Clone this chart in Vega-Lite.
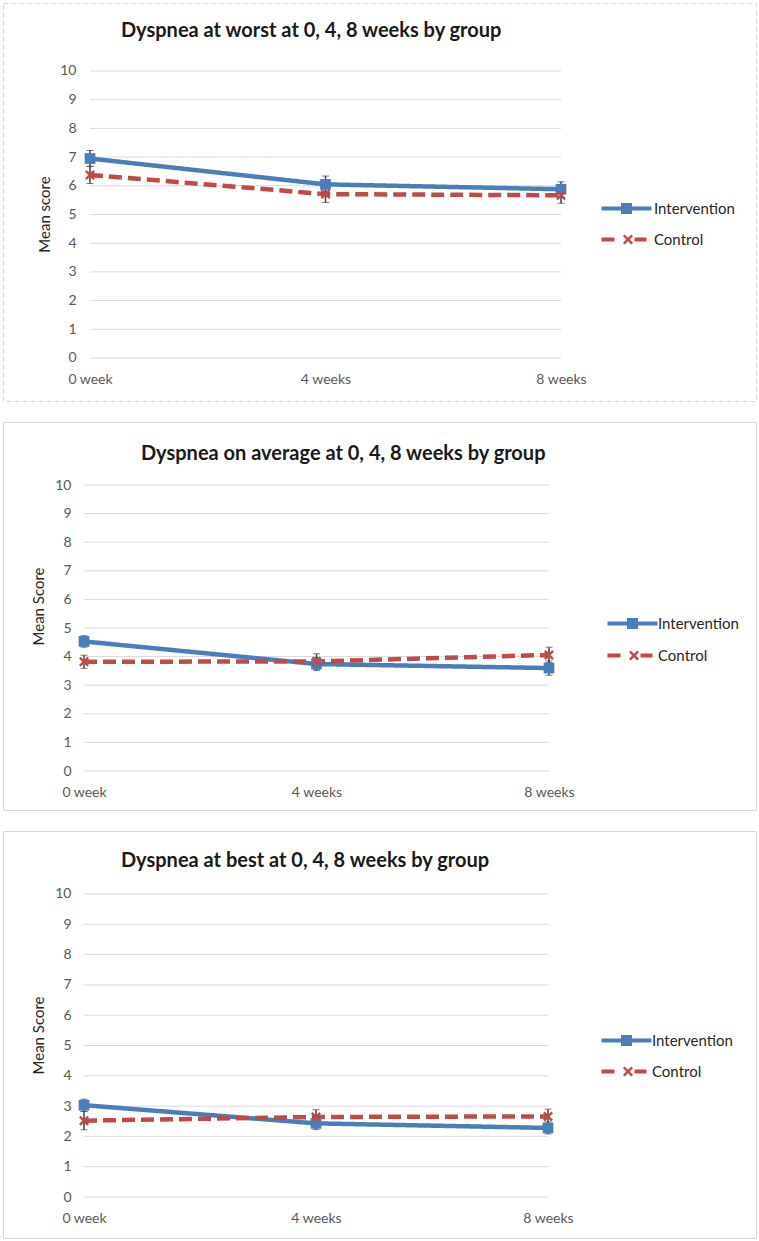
{
  "$schema": "https://vega.github.io/schema/vega-lite/v6.json",
  "padding": {"left": 2, "top": 2, "right": 2, "bottom": 2},
  "background": "white",
  "config": {"font": "Lato", "title": {"font": "Lato", "fontSize": 20, "fontWeight": "bold", "color": "#1a1a1a"}},
  "datasets": {
    "grid": [{"tick": 0}, {"tick": 1}, {"tick": 2}, {"tick": 3}, {"tick": 4}, {"tick": 5}, {"tick": 6}, {"tick": 7}, {"tick": 8}, {"tick": 9}, {"tick": 10}],
    "worst": [
      {"week": 0, "group": "Intervention", "mean": 6.95, "lo": 6.67, "hi": 7.23},
      {"week": 4, "group": "Intervention", "mean": 6.05, "lo": 5.76, "hi": 6.34},
      {"week": 8, "group": "Intervention", "mean": 5.88, "lo": 5.62, "hi": 6.14},
      {"week": 0, "group": "Control", "mean": 6.38, "lo": 6.08, "hi": 6.68},
      {"week": 4, "group": "Control", "mean": 5.71, "lo": 5.42, "hi": 6.0},
      {"week": 8, "group": "Control", "mean": 5.67, "lo": 5.39, "hi": 5.95}
    ],
    "average": [
      {"week": 0, "group": "Intervention", "mean": 4.53, "lo": 4.33, "hi": 4.73},
      {"week": 4, "group": "Intervention", "mean": 3.74, "lo": 3.51, "hi": 3.97},
      {"week": 8, "group": "Intervention", "mean": 3.6, "lo": 3.35, "hi": 3.85},
      {"week": 0, "group": "Control", "mean": 3.82, "lo": 3.59, "hi": 4.05},
      {"week": 4, "group": "Control", "mean": 3.83, "lo": 3.56, "hi": 4.1},
      {"week": 8, "group": "Control", "mean": 4.06, "lo": 3.79, "hi": 4.33}
    ],
    "best": [
      {"week": 0, "group": "Intervention", "mean": 3.03, "lo": 2.83, "hi": 3.23},
      {"week": 4, "group": "Intervention", "mean": 2.43, "lo": 2.23, "hi": 2.63},
      {"week": 8, "group": "Intervention", "mean": 2.28, "lo": 2.08, "hi": 2.48},
      {"week": 0, "group": "Control", "mean": 2.52, "lo": 2.22, "hi": 2.82},
      {"week": 4, "group": "Control", "mean": 2.64, "lo": 2.4, "hi": 2.88},
      {"week": 8, "group": "Control", "mean": 2.66, "lo": 2.42, "hi": 2.9}
    ]
  },
  "spacing": 19,
  "resolve": {
    "scale": {"x": "independent", "y": "independent", "color": "independent", "strokeDash": "independent"},
    "legend": {"color": "independent"},
    "axis": {"x": "independent", "y": "independent"}
  },
  "vconcat": [
    {
      "width": 753, "height": 398,
      "view": {"stroke": "#D9D9D9", "strokeDash": [5, 3], "strokeWidth": 1},
      "title": {"text": "Dyspnea at worst at 0, 4, 8 weeks by group", "anchor": "start", "frame": "group", "dx": 118, "dy": 20, "offset": -28, "baseline": "middle"},
      "layer": [
        {
          "data": {"name": "grid"},
          "mark": {"type": "rule", "color": "#D9D9D9", "strokeWidth": 1},
          "encoding": {
            "y": {"field": "tick", "type": "quantitative", "title": "Mean score", "scale": {"domain": [-1.4983, 12.3693], "nice": false, "zero": false},
              "axis": {"title": "Mean score", "values": [0, 1, 2, 3, 4, 5, 6, 7, 8, 9, 10], "tickCount": 11, "orient": "left", "offset": -77, "domain": false, "ticks": false, "grid": false, "labelPadding": 4, "labelOverlap": false, "labelFont": "Lato", "labelFontSize": 14, "labelColor": "#595959", "titleFont": "Lato", "titleFontSize": 15, "titleFontWeight": "normal", "titleColor": "#262626", "titleX": -36, "titleY": 211, "titleAngle": -90, "titleAlign": "center", "titleBaseline": "middle"}},
            "x": {"datum": 0, "type": "quantitative", "scale": {"domain": [-1.4777, 11.3121], "nice": false, "zero": false},
              "axis": {"title": null, "values": [0, 4, 8], "labelExpr": "datum.value == 0 ? '0 week' : datum.value + ' weeks'", "orient": "bottom", "offset": -43, "domain": false, "ticks": false, "grid": false, "labelPadding": 14, "labelFont": "Lato", "labelFontSize": 14, "labelColor": "#595959", "labelFlush": false, "labelOverlap": false}},
            "x2": {"datum": 8}
          }
        },
        {
          "data": {"name": "worst"},
          "mark": {"type": "line", "strokeWidth": 4.5},
          "encoding": {
            "x": {"field": "week", "type": "quantitative", "title": null, "scale": {"domain": [-1.4777, 11.3121], "nice": false, "zero": false}},
            "y": {"field": "mean", "type": "quantitative", "title": "Mean score", "scale": {"domain": [-1.4983, 12.3693], "nice": false, "zero": false}},
            "color": {"field": "group", "type": "nominal", "scale": {"domain": ["Intervention", "Control"], "range": ["#4A7EBB", "#BE4B48"]},
              "legend": {"title": null, "orient": "none", "legendX": 616, "legendY": 198, "direction": "vertical", "padding": 0, "rowPadding": 15, "labelOffset": 20, "labelFont": "Lato", "labelFontSize": 15, "labelColor": "#262626", "symbolSize": 100, "symbolType": "square",
                "encode": {"symbols": {"update": {
                  "shape": {"signal": "datum.value === 'Intervention' ? 'M-5,-0.4H-1.1V-1.1H1.1V-0.4H5V0.4H1.1V1.1H-1.1V0.4H-5Z' : 'M-5,-0.4H-2.4V0.4H-5Z M1.6,-0.4H4V0.4H1.6Z M-0.7,-0.65L-0.35,-1L0.3,-0.35L0.95,-1L1.3,-0.65L0.65,0L1.3,0.65L0.95,1L0.3,0.35L-0.35,1L-0.7,0.65L-0.05,0Z'"},
                  "fill": {"signal": "datum.value === 'Intervention' ? '#4A7EBB' : '#BE4B48'"},
                  "stroke": {"value": "transparent"}, "strokeWidth": {"value": 0}, "size": {"value": 100}, "opacity": {"value": 1}, "fillOpacity": {"value": 1}}}}}},
            "strokeDash": {"field": "group", "type": "nominal", "scale": {"domain": ["Intervention", "Control"], "range": [[1, 0], [13, 6]]}, "legend": null}
          }
        },
        {
          "data": {"name": "worst"},
          "mark": {"type": "errorbar", "ticks": {"size": 7, "color": "#404040", "strokeWidth": 1.5}, "rule": {"color": "#404040", "strokeWidth": 1.5}},
          "encoding": {
            "x": {"field": "week", "type": "quantitative", "title": null, "scale": {"domain": [-1.4777, 11.3121], "nice": false, "zero": false}},
            "y": {"field": "lo", "type": "quantitative", "title": "Mean score", "scale": {"domain": [-1.4983, 12.3693], "nice": false, "zero": false}},
            "y2": {"field": "hi", "title": "Mean score"}
          }
        },
        {
          "data": {"name": "worst"},
          "transform": [{"filter": "datum.group === 'Intervention'"}],
          "mark": {"type": "point", "shape": "square", "filled": true, "size": 115, "opacity": 1, "color": "#4A7EBB"},
          "encoding": {
            "x": {"field": "week", "type": "quantitative", "title": null, "scale": {"domain": [-1.4777, 11.3121], "nice": false, "zero": false}},
            "y": {"field": "mean", "type": "quantitative", "title": "Mean score", "scale": {"domain": [-1.4983, 12.3693], "nice": false, "zero": false}}
          }
        },
        {
          "data": {"name": "worst"},
          "transform": [{"filter": "datum.group === 'Control'"}],
          "mark": {"type": "point", "shape": "M-1,-0.65L-0.65,-1L0,-0.35L0.65,-1L1,-0.65L0.35,0L1,0.65L0.65,1L0,0.35L-0.65,1L-1,0.65L-0.35,0Z", "filled": true, "size": 100, "opacity": 1, "color": "#BE4B48"},
          "encoding": {
            "x": {"field": "week", "type": "quantitative", "title": null, "scale": {"domain": [-1.4777, 11.3121], "nice": false, "zero": false}},
            "y": {"field": "mean", "type": "quantitative", "title": "Mean score", "scale": {"domain": [-1.4983, 12.3693], "nice": false, "zero": false}}
          }
        }
      ]
    },
    {
      "width": 753, "height": 388,
      "view": {"stroke": "#D9D9D9", "strokeWidth": 1},
      "title": {"text": "Dyspnea on average at 0, 4, 8 weeks by group", "anchor": "start", "frame": "group", "dx": 138, "dy": 21, "offset": -31, "baseline": "middle"},
      "layer": [
        {
          "data": {"name": "grid"},
          "mark": {"type": "rule", "color": "#D9D9D9", "strokeWidth": 1},
          "encoding": {
            "y": {"field": "tick", "type": "quantitative", "title": "Mean Score", "scale": {"domain": [-1.3636, 12.2028], "nice": false, "zero": false},
              "axis": {"title": "Mean Score", "values": [0, 1, 2, 3, 4, 5, 6, 7, 8, 9, 10], "tickCount": 11, "orient": "left", "offset": -72, "domain": false, "ticks": false, "grid": false, "labelPadding": 4, "labelOverlap": false, "labelFont": "Lato", "labelFontSize": 14, "labelColor": "#595959", "titleFont": "Lato", "titleFontSize": 15, "titleFontWeight": "normal", "titleColor": "#262626", "titleX": -37, "titleY": 184, "titleAngle": -90, "titleAlign": "center", "titleBaseline": "middle"}},
            "x": {"datum": 0, "type": "quantitative", "scale": {"domain": [-1.3935, 11.5613], "nice": false, "zero": false},
              "axis": {"title": null, "values": [0, 4, 8], "labelExpr": "datum.value == 0 ? '0 week' : datum.value + ' weeks'", "orient": "bottom", "offset": -39, "domain": false, "ticks": false, "grid": false, "labelPadding": 14, "labelFont": "Lato", "labelFontSize": 14, "labelColor": "#595959", "labelFlush": false, "labelOverlap": false}},
            "x2": {"datum": 8}
          }
        },
        {
          "data": {"name": "average"},
          "mark": {"type": "line", "strokeWidth": 4.5},
          "encoding": {
            "x": {"field": "week", "type": "quantitative", "title": null, "scale": {"domain": [-1.3935, 11.5613], "nice": false, "zero": false}},
            "y": {"field": "mean", "type": "quantitative", "title": "Mean Score", "scale": {"domain": [-1.3636, 12.2028], "nice": false, "zero": false}},
            "color": {"field": "group", "type": "nominal", "scale": {"domain": ["Intervention", "Control"], "range": ["#4A7EBB", "#BE4B48"]},
              "legend": {"title": null, "orient": "none", "legendX": 622, "legendY": 194, "direction": "vertical", "padding": 0, "rowPadding": 16, "labelOffset": 18, "labelFont": "Lato", "labelFontSize": 15, "labelColor": "#262626", "symbolSize": 100, "symbolType": "square",
                "encode": {"symbols": {"update": {
                  "shape": {"signal": "datum.value === 'Intervention' ? 'M-5,-0.4H-1.1V-1.1H1.1V-0.4H5V0.4H1.1V1.1H-1.1V0.4H-5Z' : 'M-5,-0.4H-2.4V0.4H-5Z M1.6,-0.4H4V0.4H1.6Z M-0.7,-0.65L-0.35,-1L0.3,-0.35L0.95,-1L1.3,-0.65L0.65,0L1.3,0.65L0.95,1L0.3,0.35L-0.35,1L-0.7,0.65L-0.05,0Z'"},
                  "fill": {"signal": "datum.value === 'Intervention' ? '#4A7EBB' : '#BE4B48'"},
                  "stroke": {"value": "transparent"}, "strokeWidth": {"value": 0}, "size": {"value": 100}, "opacity": {"value": 1}, "fillOpacity": {"value": 1}}}}}},
            "strokeDash": {"field": "group", "type": "nominal", "scale": {"domain": ["Intervention", "Control"], "range": [[1, 0], [13, 6]]}, "legend": null}
          }
        },
        {
          "data": {"name": "average"},
          "mark": {"type": "errorbar", "ticks": {"size": 7, "color": "#404040", "strokeWidth": 1.5}, "rule": {"color": "#404040", "strokeWidth": 1.5}},
          "encoding": {
            "x": {"field": "week", "type": "quantitative", "title": null, "scale": {"domain": [-1.3935, 11.5613], "nice": false, "zero": false}},
            "y": {"field": "lo", "type": "quantitative", "title": "Mean Score", "scale": {"domain": [-1.3636, 12.2028], "nice": false, "zero": false}},
            "y2": {"field": "hi", "title": "Mean Score"}
          }
        },
        {
          "data": {"name": "average"},
          "transform": [{"filter": "datum.group === 'Intervention'"}],
          "mark": {"type": "point", "shape": "square", "filled": true, "size": 115, "opacity": 1, "color": "#4A7EBB"},
          "encoding": {
            "x": {"field": "week", "type": "quantitative", "title": null, "scale": {"domain": [-1.3935, 11.5613], "nice": false, "zero": false}},
            "y": {"field": "mean", "type": "quantitative", "title": "Mean Score", "scale": {"domain": [-1.3636, 12.2028], "nice": false, "zero": false}}
          }
        },
        {
          "data": {"name": "average"},
          "transform": [{"filter": "datum.group === 'Control'"}],
          "mark": {"type": "point", "shape": "M-1,-0.65L-0.65,-1L0,-0.35L0.65,-1L1,-0.65L0.35,0L1,0.65L0.65,1L0,0.35L-0.65,1L-1,0.65L-0.35,0Z", "filled": true, "size": 100, "opacity": 1, "color": "#BE4B48"},
          "encoding": {
            "x": {"field": "week", "type": "quantitative", "title": null, "scale": {"domain": [-1.3935, 11.5613], "nice": false, "zero": false}},
            "y": {"field": "mean", "type": "quantitative", "title": "Mean Score", "scale": {"domain": [-1.3636, 12.2028], "nice": false, "zero": false}}
          }
        }
      ]
    },
    {
      "width": 753, "height": 407,
      "view": {"stroke": "#D9D9D9", "strokeWidth": 1},
      "title": {"text": "Dyspnea at best at 0, 4, 8 weeks by group", "anchor": "start", "frame": "group", "dx": 118, "dy": 20, "offset": -30, "baseline": "middle"},
      "layer": [
        {
          "data": {"name": "grid"},
          "mark": {"type": "rule", "color": "#D9D9D9", "strokeWidth": 1},
          "encoding": {
            "y": {"field": "tick", "type": "quantitative", "title": "Mean Score", "scale": {"domain": [-1.3531, 12.0792], "nice": false, "zero": false},
              "axis": {"title": "Mean Score", "values": [0, 1, 2, 3, 4, 5, 6, 7, 8, 9, 10], "tickCount": 11, "orient": "left", "offset": -72, "domain": false, "ticks": false, "grid": false, "labelPadding": 4, "labelOverlap": false, "labelFont": "Lato", "labelFontSize": 14, "labelColor": "#595959", "titleFont": "Lato", "titleFontSize": 15, "titleFontWeight": "normal", "titleColor": "#262626", "titleX": -37, "titleY": 204, "titleAngle": -90, "titleAlign": "center", "titleBaseline": "middle"}},
            "x": {"datum": 0, "type": "quantitative", "scale": {"domain": [-1.3966, 11.5862], "nice": false, "zero": false},
              "axis": {"title": null, "values": [0, 4, 8], "labelExpr": "datum.value == 0 ? '0 week' : datum.value + ' weeks'", "orient": "bottom", "offset": -41, "domain": false, "ticks": false, "grid": false, "labelPadding": 14, "labelFont": "Lato", "labelFontSize": 14, "labelColor": "#595959", "labelFlush": false, "labelOverlap": false}},
            "x2": {"datum": 8}
          }
        },
        {
          "data": {"name": "best"},
          "mark": {"type": "line", "strokeWidth": 4.5},
          "encoding": {
            "x": {"field": "week", "type": "quantitative", "title": null, "scale": {"domain": [-1.3966, 11.5862], "nice": false, "zero": false}},
            "y": {"field": "mean", "type": "quantitative", "title": "Mean Score", "scale": {"domain": [-1.3531, 12.0792], "nice": false, "zero": false}},
            "color": {"field": "group", "type": "nominal", "scale": {"domain": ["Intervention", "Control"], "range": ["#4A7EBB", "#BE4B48"]},
              "legend": {"title": null, "orient": "none", "legendX": 616, "legendY": 202, "direction": "vertical", "padding": 0, "rowPadding": 15, "labelOffset": 18, "labelFont": "Lato", "labelFontSize": 15, "labelColor": "#262626", "symbolSize": 100, "symbolType": "square",
                "encode": {"symbols": {"update": {
                  "shape": {"signal": "datum.value === 'Intervention' ? 'M-5,-0.4H-1.1V-1.1H1.1V-0.4H5V0.4H1.1V1.1H-1.1V0.4H-5Z' : 'M-5,-0.4H-2.4V0.4H-5Z M1.6,-0.4H4V0.4H1.6Z M-0.7,-0.65L-0.35,-1L0.3,-0.35L0.95,-1L1.3,-0.65L0.65,0L1.3,0.65L0.95,1L0.3,0.35L-0.35,1L-0.7,0.65L-0.05,0Z'"},
                  "fill": {"signal": "datum.value === 'Intervention' ? '#4A7EBB' : '#BE4B48'"},
                  "stroke": {"value": "transparent"}, "strokeWidth": {"value": 0}, "size": {"value": 100}, "opacity": {"value": 1}, "fillOpacity": {"value": 1}}}}}},
            "strokeDash": {"field": "group", "type": "nominal", "scale": {"domain": ["Intervention", "Control"], "range": [[1, 0], [13, 6]]}, "legend": null}
          }
        },
        {
          "data": {"name": "best"},
          "mark": {"type": "errorbar", "ticks": {"size": 7, "color": "#404040", "strokeWidth": 1.5}, "rule": {"color": "#404040", "strokeWidth": 1.5}},
          "encoding": {
            "x": {"field": "week", "type": "quantitative", "title": null, "scale": {"domain": [-1.3966, 11.5862], "nice": false, "zero": false}},
            "y": {"field": "lo", "type": "quantitative", "title": "Mean Score", "scale": {"domain": [-1.3531, 12.0792], "nice": false, "zero": false}},
            "y2": {"field": "hi", "title": "Mean Score"}
          }
        },
        {
          "data": {"name": "best"},
          "transform": [{"filter": "datum.group === 'Intervention'"}],
          "mark": {"type": "point", "shape": "square", "filled": true, "size": 115, "opacity": 1, "color": "#4A7EBB"},
          "encoding": {
            "x": {"field": "week", "type": "quantitative", "title": null, "scale": {"domain": [-1.3966, 11.5862], "nice": false, "zero": false}},
            "y": {"field": "mean", "type": "quantitative", "title": "Mean Score", "scale": {"domain": [-1.3531, 12.0792], "nice": false, "zero": false}}
          }
        },
        {
          "data": {"name": "best"},
          "transform": [{"filter": "datum.group === 'Control'"}],
          "mark": {"type": "point", "shape": "M-1,-0.65L-0.65,-1L0,-0.35L0.65,-1L1,-0.65L0.35,0L1,0.65L0.65,1L0,0.35L-0.65,1L-1,0.65L-0.35,0Z", "filled": true, "size": 100, "opacity": 1, "color": "#BE4B48"},
          "encoding": {
            "x": {"field": "week", "type": "quantitative", "title": null, "scale": {"domain": [-1.3966, 11.5862], "nice": false, "zero": false}},
            "y": {"field": "mean", "type": "quantitative", "title": "Mean Score", "scale": {"domain": [-1.3531, 12.0792], "nice": false, "zero": false}}
          }
        }
      ]
    }
  ]
}
